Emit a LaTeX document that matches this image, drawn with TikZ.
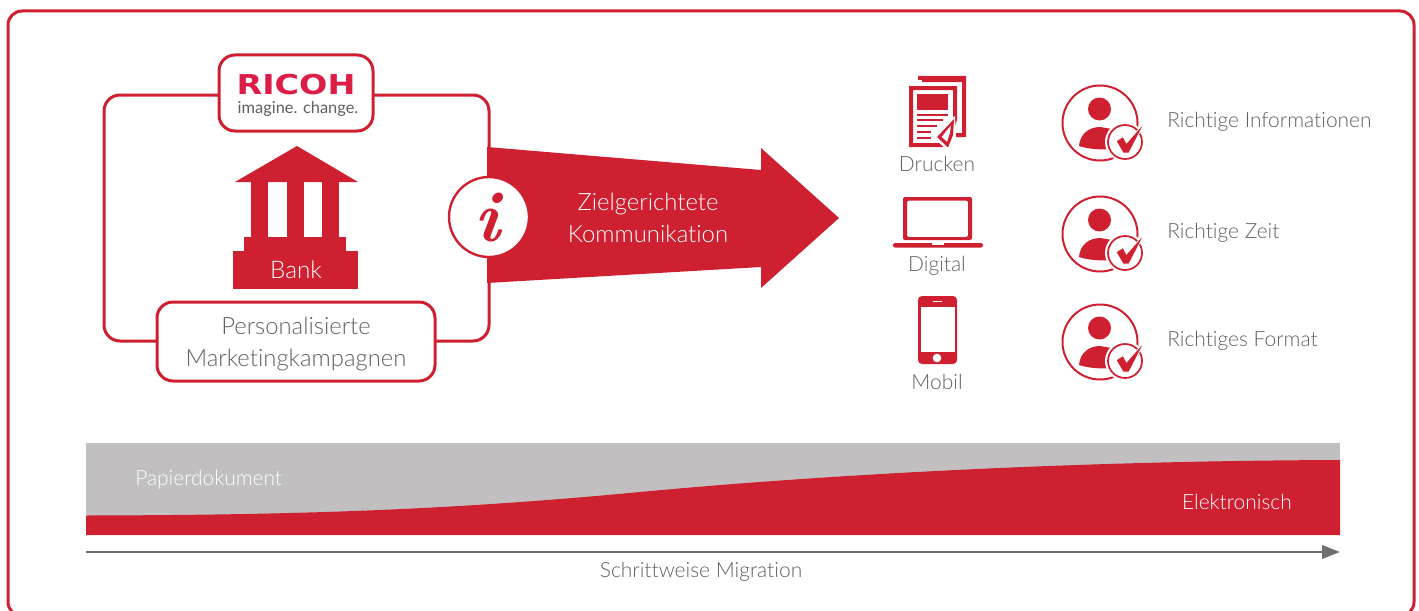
\documentclass[tikz,border=0pt]{standalone}
\usepackage{fontspec}
\setmainfont{Lato}[UprightFont=* Light, Ligatures=CommonOff]
\newfontfamily\infofont{Latin Modern Roman}
\newfontfamily\logofont{DejaVu Sans}
\newfontfamily\sloganfont{Lato}
\usetikzlibrary{arrows.meta, positioning}

\definecolor{ricohred}{HTML}{CE2030}
\definecolor{logored}{HTML}{DC1E46}
\definecolor{textgray}{HTML}{5F6063}
\definecolor{arrowgray}{HTML}{6D6E71}
\definecolor{bandgray}{HTML}{C1BFBF}

\tikzset{
	redbox/.style={draw=ricohred, line width=2.25pt, rounded corners=12pt, fill=white},
	biglabel/.style={align=center, font=\fontsize{17.9}{24}\selectfont},
	smalllabel/.style={text=textgray, font=\fontsize{15.7}{18}\selectfont},
	personcheck/.pic={
		\draw[ricohred, line width=1.5pt] (0,0) circle [radius=37.5];
		\fill[ricohred] (-0.5,-14) circle [radius=11.5];
		\fill[ricohred] (-21,23) .. controls (-20,10) and (-10,4) .. (0,4) -- (12,6) -- (12,26) .. controls (0,27) and (-12,26) .. (-21,23) -- cycle;
		\fill[white] (25,19) circle [radius=20];
		\draw[ricohred, line width=1.3pt] (25,19) circle [radius=17];
		\fill[ricohred, draw=white, line width=0.6pt] (16,18) -- (23,13.5) -- (26.5,20) -- (45,-1) -- (29,30) -- (23,30) -- cycle;
	}
}

\begin{document}
\begin{tikzpicture} [
						x=0.75pt,
						y=-0.75pt
					]

\useasboundingbox (0,0) rectangle (1419,610);

\node (frame) [draw=ricohred, line width=2.25pt, rounded corners=10.5pt, minimum width=1054.5pt, minimum height=453.75pt] at (711,313.5) {};
\node (bankbox) [redbox, minimum width=288.75pt, minimum height=184.5pt] at (296.5,218) {};

% bank
\fill[ricohred] (297,146) -- (358,182) -- (235,182) -- cycle;
\fill[ricohred] (251,182) rectangle (268,237);
\fill[ricohred] (287,182) rectangle (304,237);
\fill[ricohred] (322,182) rectangle (339,237);
\fill[ricohred] (244,237) rectangle (346,251);
\fill[ricohred] (233,251) rectangle (358,289);
\node (bank) [text=white, font=\fontsize{18.2}{20}\selectfont] at (296,270) {Bank};

\node (logobox) [redbox, minimum width=115.5pt, minimum height=57pt] at (296,93) {};
\node (ricoh) [text=logored, inner sep=0pt, font=\logofont\bfseries\fontsize{20.5}{20}\selectfont] at (296,84.5) {\scalebox{1.22}[1]{RICOH}};
\node (slogan) [text=textgray, inner sep=0pt, font=\sloganfont\fontsize{12.3}{13}\selectfont] at (298,109) {imagine. change.};

\node (kampagnenbox) [redbox, minimum width=208.5pt, minimum height=59.25pt] at (296,341.5) {};
\node (kampagnen) [text=textgray, biglabel] at (296,344) {Personalisierte\\Marketingkampagnen};

% arrow
\fill[ricohred] (487,147) -- (761,170) -- (761,148) -- (839,218) -- (761,288) -- (761,267) -- (487,283) -- cycle;
\node (info) [circle, draw=ricohred, line width=1.8pt, fill=white, minimum size=60pt, inner sep=0pt] at (489,217) {};
\node (infoi) [text=ricohred, inner sep=0pt, font=\infofont\itshape\bfseries\fontsize{54}{54}\selectfont] at (487,217.5) {i};
\node (ziel) [text=white, biglabel] at (648,218) {Zielgerichtete\\Kommunikation};

% print
\fill[ricohred] (918,76) -- (966,76) -- (966,137) -- (955,137) -- (955,133) -- (962,133) -- (962,82) -- (922,82) -- (922,80) -- (918,80) -- cycle;
\fill[ricohred, even odd rule] (909,86) -- (957,86) -- (957,120) -- (948,147) -- (909,147) -- cycle (913,90) -- (953,90) -- (953,124) -- (947,143) -- (913,143) -- cycle;
\fill[ricohred] (917,94) rectangle (948,110);
\fill[ricohred] (917,114) rectangle (948,116);
\fill[ricohred] (917,119) rectangle (943,121);
\fill[ricohred] (917,125) rectangle (937,127);
\fill[ricohred] (917,131) rectangle (931,133);
\fill[ricohred] (917,137) rectangle (931,139);
\fill[white] (955,116) -- (933,137) -- (948,151) -- (956,137) -- cycle;
\fill[ricohred, even odd rule] (954,119) -- (937,137) -- (948,147.5) -- (953,135) -- cycle (951,125) -- (941.5,137) -- (947,142) -- (950,133) -- cycle;
\node (drucken) [smalllabel] at (937,164) {Drucken};

% digital
\fill[ricohred, rounded corners=1.5pt, even odd rule] (903,197) rectangle (972,240) (907,200.5) rectangle (968,237);
\fill[ricohred, rounded corners=1.5pt] (893,243) -- (983,243) -- (983,247.5) -- (893,247.5) -- cycle;
\fill[white] (932,243) rectangle (943.5,244.5);
\node (digital) [smalllabel] at (937,266) {Digital};

% mobil
\fill[ricohred, rounded corners=3pt] (918,296) rectangle (957,364);
\fill[white] (921,307) rectangle (955,352);
\fill[white] (933,300.5) rectangle (942,301.5);
\fill[white] (937,358) circle [radius=4.3];
\node (mobil) [smalllabel] at (937,382) {Mobil};

\pic at (1100,123) {personcheck};
\pic at (1100,234) {personcheck};
\pic at (1100,342) {personcheck};
\node (info1) [smalllabel, anchor=west, inner sep=0pt] at (1167,122) {Richtige Informationen};
\node (info2) [smalllabel, anchor=west, inner sep=0pt] at (1167,233) {Richtige Zeit};
\node (info3) [smalllabel, anchor=west, inner sep=0pt] at (1167,341) {Richtiges Format};

% band
\fill[bandgray] (86,443) rectangle (1340,535);
\fill[ricohred] (86,515.5) .. controls (300,515) and (450,510) .. (640,492) .. controls (800,477) and (1050,461) .. (1340,460) -- (1340,535) -- (86,535) -- cycle;
\node (papier) [smalllabel, text=white, anchor=west, inner sep=0pt] at (135,480) {Papierdokument};
\node (elektro) [smalllabel, text=white, anchor=east, inner sep=0pt] at (1292,502) {Elektronisch};

\coordinate (migstart) at (86,552);
\coordinate (migend) at (1340,552);
\draw[-{Triangle[length=13.5pt,width=10pt]}, arrowgray, line width=1.9pt] (migstart) -- (migend);
\node (migration) [smalllabel] at (701,572) {Schrittweise Migration};

\end{tikzpicture}
\end{document}
